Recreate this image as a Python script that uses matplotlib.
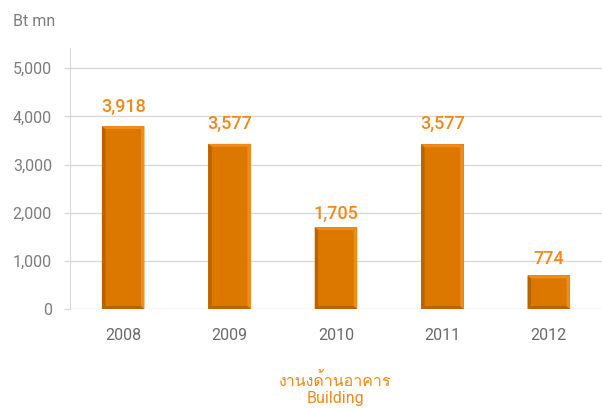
import matplotlib
matplotlib.use('Agg')
import matplotlib.pyplot as plt
from matplotlib import font_manager as fm
from matplotlib.patches import Polygon

years = ['2008', '2009', '2010', '2011', '2012']
values = [3918, 3577, 1705, 3577, 774]        # printed value labels
bar_tops = [3800, 3430, 1700, 3420, 700]      # bar heights as drawn in the source
yticks = [0, 1000, 2000, 3000, 4000, 5000]
ytick_labels = ['0', '1,000', '2,000', '3,000', '4,000', '5,000']

ORANGE = '#dc7800'
DARK = '#b86400'
LIGHT = '#ee8c1c'
LABEL = '#f0891a'
GREY = '#7d7d7d'
GRID = '#d9d9d9'


def find_thai_font():
    # look for any installed face that has Thai glyphs
    try:
        from fontTools.ttLib import TTFont
    except ImportError:
        return None
    seen = set()
    for f in fm.fontManager.ttflist:
        if f.fname in seen:
            continue
        seen.add(f.fname)
        try:
            tt = TTFont(f.fname, fontNumber=0, lazy=True)
            cmap = tt.getBestCmap()
            if cmap and 0x0E07 in cmap:
                return f.name
        except Exception:
            continue
    return None


thai = find_thai_font()
families = ['Roboto', 'DejaVu Sans']
if thai:
    families = ['Roboto', thai, 'DejaVu Sans']
plt.rcParams['font.family'] = families

fig = plt.figure(figsize=(6.02, 4.08), dpi=100)
ax = fig.add_axes([70 / 602, 1 - 309 / 408, 532 / 602, 261 / 408])

x = list(range(len(years)))
w = 0.40
bars = ax.bar(x, bar_tops, width=w, color=ORANGE, zorder=3, linewidth=0)
ax.set_xlim(-0.5, 4.5)
ax.set_ylim(0, 5420)

# bevel edges, sized in pixels
ax_w = fig.get_figwidth() * fig.dpi * ax.get_position().width
ax_h = fig.get_figheight() * fig.dpi * ax.get_position().height
bx = 3.5 * 5.0 / ax_w
by = 3 * 5420 / ax_h
for rect in bars:
    x0 = rect.get_x()
    x1 = x0 + rect.get_width()
    y0 = 0
    y1 = rect.get_height()
    faces = [
        ([(x0, y0), (x0, y1), (x0 + bx, y1 - by), (x0 + bx, y0 + by)], DARK),
        ([(x0, y0), (x1, y0), (x1 - bx, y0 + by), (x0 + bx, y0 + by)], DARK),
        ([(x0, y1), (x1, y1), (x1 - bx, y1 - by), (x0 + bx, y1 - by)], LIGHT),
        ([(x1, y1), (x1, y0), (x1 - bx, y0 + by), (x1 - bx, y1 - by)], LIGHT),
    ]
    for pts, c in faces:
        ax.add_patch(Polygon(pts, closed=True, color=c, lw=0, zorder=4))

for xi, v in zip(x, values):
    ax.annotate(f'{v:,}', (xi, v), xytext=(0, 3), textcoords='offset points',
                ha='center', va='bottom', color=LABEL, fontsize=13,
                fontweight='medium')

ax.set_yticks(yticks)
ax.set_yticklabels(ytick_labels)
ax.set_xticks(x)
ax.set_xticklabels(years)
ax.tick_params(axis='y', length=4, width=1, color=GRID, pad=9,
               labelcolor=GREY, labelsize=11.5)
ax.tick_params(axis='x', length=0, pad=14, labelcolor='#6a6a6a', labelsize=11.5)
ax.yaxis.grid(True, color=GRID, lw=1, zorder=0)
ax.set_axisbelow(True)
for s in ['top', 'right', 'bottom']:
    ax.spines[s].set_visible(False)
ax.spines['left'].set_color(GRID)

fig.text(13 / 602, 1 - 22 / 408, 'Bt mn', ha='left', va='center',
         color=GREY, fontsize=11.5)
fig.text(335 / 602, 1 - 381 / 408, 'งานงด้านอาคาร', ha='center', va='center',
         color=LABEL, fontsize=11.5)
fig.text(335 / 602, 1 - 398 / 408, 'Building', ha='center', va='center',
         color=LABEL, fontsize=11.5)

fig.savefig('out.png', dpi=100)
